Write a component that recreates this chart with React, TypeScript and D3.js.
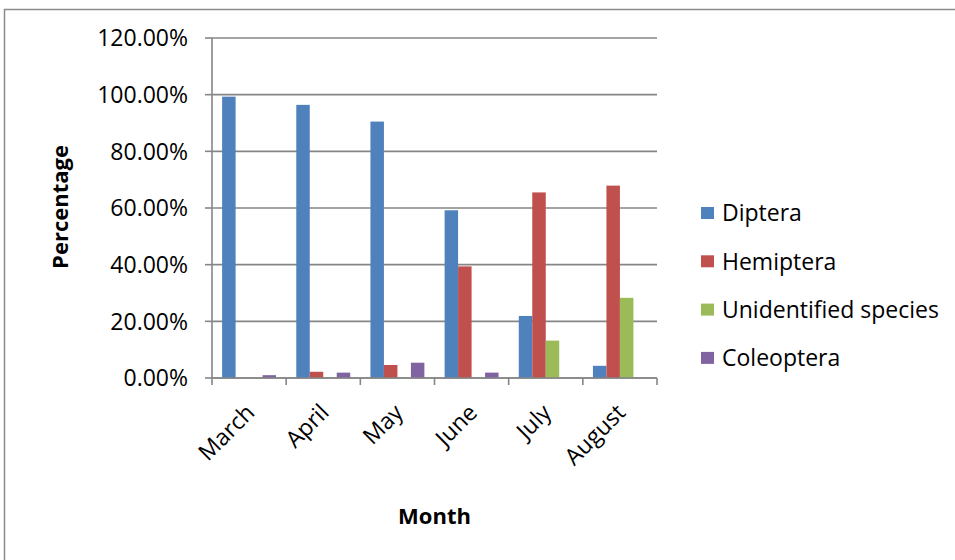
import React from "react";
import * as d3 from "d3";

const months = ["March", "April", "May", "June", "July", "August"];
const seriesNames = ["Diptera", "Hemiptera", "Unidentified species", "Coleoptera"];
const diptera = [99.3, 96.4, 90.5, 59.2, 21.9, 4.3];
const hemiptera = [0, 2.2, 4.6, 39.4, 65.5, 67.9];
const unidentified = [0, 0, 0, 0, 13.2, 28.3];
const coleoptera = [1.0, 1.9, 5.4, 1.9, 0, 0];
const yTicks = [0, 20, 40, 60, 80, 100, 120];
const colors = ["#4F81BD", "#C0504D", "#9BBB59", "#8064A2"];

const W = 955;
const H = 560;
const plot = { left: 212, right: 657, top: 38, bottom: 378 };
const FONT = "'Open Sans', 'Noto Sans', sans-serif";
const GRID = "#868686";

export default function App() {
  const series = [diptera, hemiptera, unidentified, coleoptera];

  const x = d3.scaleBand<string>().domain(months).range([plot.left, plot.right]).paddingInner(0).paddingOuter(0);
  const bw = x.bandwidth();
  // Excel-style gap width of 150%: four bars plus one and a half bar widths of gap
  const barW = bw / (series.length + 1.5);
  const groupOffset = (bw - barW * series.length) / 2;
  const y = d3.scaleLinear().domain([0, 120]).range([plot.bottom, plot.top]);

  const boundaries = months.map((m) => x(m) as number).concat([plot.right]);

  return (
    <svg
      width={W}
      height={H}
      style={{ position: "absolute", left: 0, top: 0, background: "#fff" }}
      fontFamily={FONT}
    >
      <rect x={0} y={0} width={W} height={H} fill="#fff" />
      {/* chart frame */}
      <rect x={4.5} y={9.5} width={1200} height={1200} fill="none" stroke="#8a8a8a" strokeWidth={1.5} />

      {/* gridlines */}
      {yTicks.map((t) => (
        <line key={"g" + t} x1={plot.left} x2={plot.right} y1={y(t)} y2={y(t)} stroke={GRID} strokeWidth={1.6} />
      ))}

      {/* bars */}
      {series.map((vals, si) =>
        vals.map((v, i) =>
          v > 0 ? (
            <rect
              key={`b${si}-${i}`}
              x={(x(months[i]) as number) + groupOffset + si * barW}
              y={y(v)}
              width={barW}
              height={y(0) - y(v)}
              fill={colors[si]}
            />
          ) : null
        )
      )}

      {/* y axis */}
      <line x1={plot.left} x2={plot.left} y1={plot.top} y2={plot.bottom} stroke={GRID} strokeWidth={1.6} />
      {yTicks.map((t) => (
        <g key={"yt" + t}>
          <line x1={plot.left - 7} x2={plot.left} y1={y(t)} y2={y(t)} stroke={GRID} strokeWidth={1.6} />
          <text x={188} y={y(t) + 8.3} textAnchor="end" fontSize={23} fill="#000">
            {d3.format(".2f")(t) + "%"}
          </text>
        </g>
      ))}

      {/* x axis */}
      <line x1={plot.left} x2={plot.right} y1={plot.bottom} y2={plot.bottom} stroke={GRID} strokeWidth={1.6} />
      {boundaries.map((b, i) => (
        <line key={"xt" + i} x1={b} x2={b} y1={plot.bottom} y2={plot.bottom + 7} stroke={GRID} strokeWidth={1.6} />
      ))}
      {months.map((m) => {
        const cx = (x(m) as number) + bw / 2;
        return (
          <text
            key={"xl" + m}
            transform={`translate(${cx + 7},${plot.bottom + 36}) rotate(-45)`}
            textAnchor="end"
            fontSize={23}
            fill="#000"
          >
            {m}
          </text>
        );
      })}

      {/* axis titles */}
      <text x={434.5} y={524} textAnchor="middle" fontSize={22} fontWeight="bold" fill="#000">
        Month
      </text>
      <text transform="translate(68,207) rotate(-90)" textAnchor="middle" fontSize={22} fontWeight="bold" fill="#000">
        Percentage
      </text>

      {/* legend */}
      {seriesNames.map((name, i) => {
        const cy = 213 + i * 48.3;
        return (
          <g key={"lg" + name}>
            <rect x={701} y={cy - 6} width={13} height={12} fill={colors[i]} />
            <text x={722} y={cy + 8.3} fontSize={23} fill="#000">
              {name}
            </text>
          </g>
        );
      })}
    </svg>
  );
}
